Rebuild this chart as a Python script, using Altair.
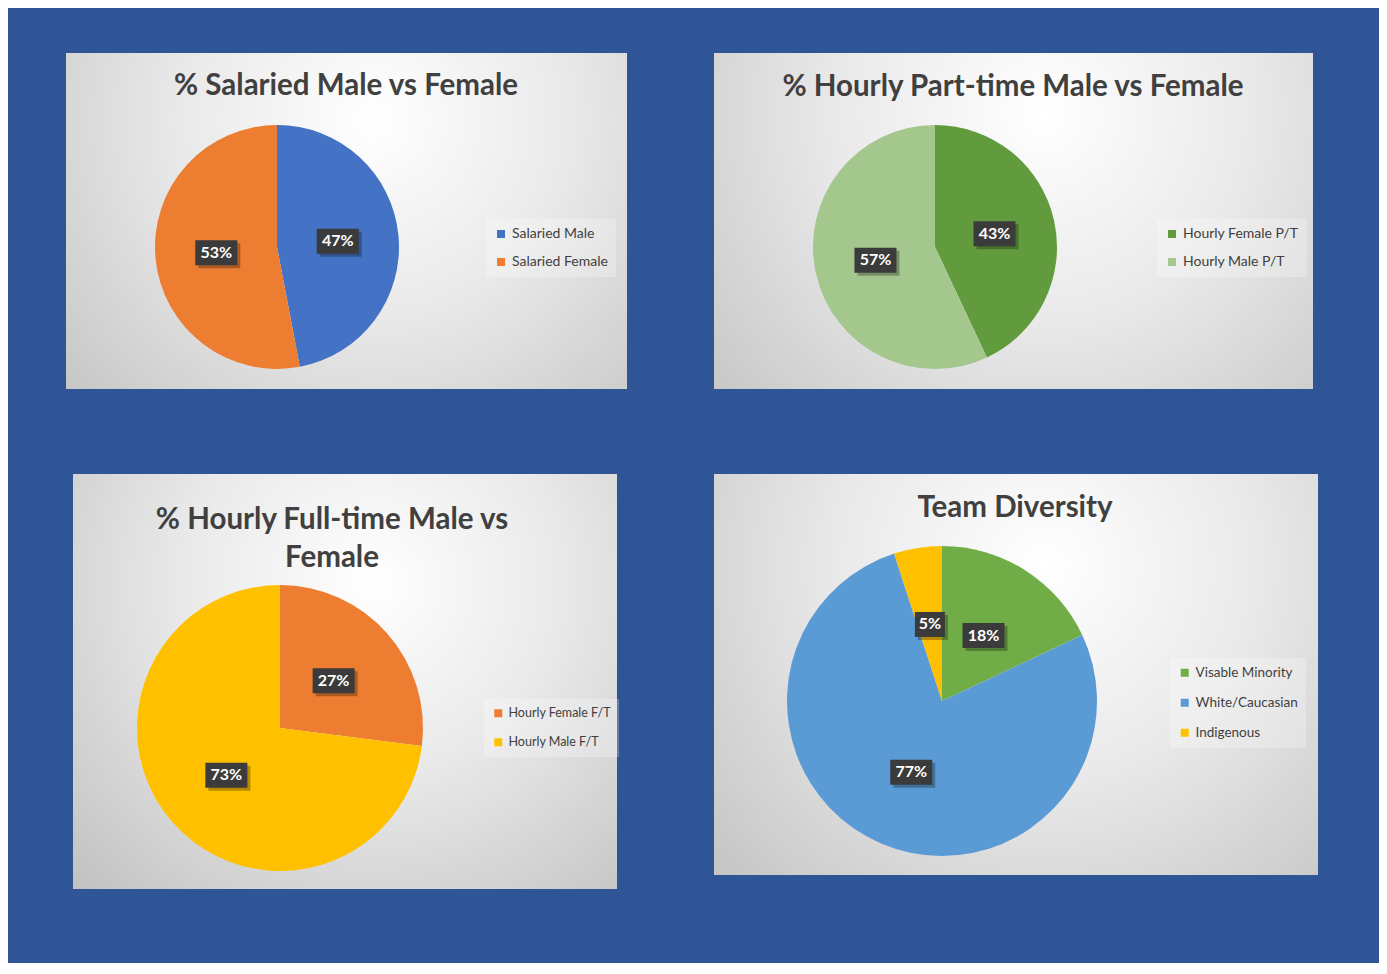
import altair as alt
import pandas as pd

# ---------------- data ----------------
p1_cats = ["Salaried Male", "Salaried Female"]
p1_vals = [47, 53]
p1_labels = ["47%", "53%"]
p1_colors = ["#4472C4", "#ED7D31"]
p1_title = ["% Salaried Male vs Female"]

p2_cats = ["Hourly Female P/T", "Hourly Male P/T"]
p2_vals = [43, 57]
p2_labels = ["43%", "57%"]
p2_colors = ["#629B3D", "#A4C78E"]
p2_title = ["% Hourly Part-time Male vs Female"]

p3_cats = ["Hourly Female F/T", "Hourly Male F/T"]
p3_vals = [27, 73]
p3_labels = ["27%", "73%"]
p3_colors = ["#ED7D31", "#FFC000"]
p3_title = ["% Hourly Full-time Male vs", "Female"]

p4_cats = ["Visable Minority", "White/Caucasian", "Indigenous"]
p4_vals = [18, 77, 5]
p4_labels = ["18%", "77%", "5%"]
p4_colors = ["#70AD47", "#5B9BD5", "#FFC000"]
p4_title = ["Team Diversity"]

BG = "#2F5597"
FONT = "Lato"

GRAD = alt.RadialGradient(
    gradient="radial", x1=0.55, y1=0.32, r1=0.0, x2=0.55, y2=0.32, r2=0.78,
    stops=[alt.GradientStop(offset=0, color="#ffffff"),
           alt.GradientStop(offset=0.45, color="#e9e9e9"),
           alt.GradientStop(offset=1, color="#c2c2c2")],
)


def panel(cats, vals, labels, colors, title_lines, W, H, cx, cy, R,
          tx, ty, tsize, lx, ly, lfont, lrow):
    df = pd.DataFrame({"cat": cats, "val": vals, "lab": labels,
                       "idx": list(range(len(cats)))})
    base = alt.Chart(df)
    one = alt.Chart(pd.DataFrame({"k": [0]}))
    rl = R * 0.5

    bg = one.mark_rect(fill=GRAD, strokeWidth=0).encode(
        x=alt.value(0), x2=alt.value(W), y=alt.value(0), y2=alt.value(H))

    color = alt.Color(
        "cat:N", sort=cats,
        scale=alt.Scale(domain=cats, range=colors),
        legend=alt.Legend(
            orient="none", legendX=lx, legendY=ly, title=None,
            fillColor="rgba(255,255,255,0.25)", padding=8,
            symbolType="square", symbolSize=64, symbolStrokeWidth=0,
            labelFont=FONT, labelFontSize=lfont, labelColor="#404040",
            labelOffset=4, rowPadding=lrow,
        ),
    )

    arc = base.mark_arc(radius=R).encode(
        theta=alt.Theta("val:Q", stack=True),
        color=color,
        order=alt.Order("idx:Q"),
        x=alt.value(cx), y=alt.value(cy),
    )

    lab = base.transform_joinaggregate(total="sum(val)").transform_window(
        cum="sum(val)", sort=[alt.SortField("idx")], frame=[None, 0]
    ).transform_calculate(
        a="2*PI*(datum.cum - datum.val/2)/datum.total",
    ).transform_calculate(
        lx=f"{cx} + {rl}*sin(datum.a)",
        ly=f"{cy} - {rl}*cos(datum.a)",
        shp="length(datum.lab) > 2 ? 'M-21,-12.5H21V12.5H-21Z' : 'M-15,-12.5H15V12.5H-15Z'",
    )
    xe = alt.X("lx:Q", scale=None, axis=None)
    ye = alt.Y("ly:Q", scale=None, axis=None)

    shadow = lab.mark_point(filled=True, fill="#000000", opacity=0.28, size=4,
                            strokeWidth=0, xOffset=3, yOffset=3).encode(
        x=xe, y=ye, shape=alt.Shape("shp:N", scale=None))
    box = lab.mark_point(filled=True, fill="#3b3b3b", opacity=1, size=4,
                         strokeWidth=0).encode(
        x=xe, y=ye, shape=alt.Shape("shp:N", scale=None))
    txt = lab.mark_text(font=FONT, fontWeight="bold", fontSize=16,
                        color="white", baseline="middle", align="center").encode(
        x=xe, y=ye, text="lab:N")

    title = one.mark_text(font=FONT, fontWeight="bold", fontSize=tsize,
                          color="#404040", baseline="middle", align="center",
                          lineHeight=38).encode(
        x=alt.value(tx), y=alt.value(ty),
        text=alt.value(title_lines if len(title_lines) > 1 else title_lines[0]),
    )

    return alt.layer(bg, arc, shadow, box, txt, title).properties(
        width=W, height=H
    )


p1 = panel(p1_cats, p1_vals, p1_labels, p1_colors, p1_title,
           561, 336, 211, 194, 122, 280, 33, 29.5, 420, 166, 14, 14)
p2 = panel(p2_cats, p2_vals, p2_labels, p2_colors, p2_title,
           599, 336, 221, 194, 122, 299, 34, 29.5, 443, 166, 14, 14)
p3 = panel(p3_cats, p3_vals, p3_labels, p3_colors, p3_title,
           544, 415, 207, 254, 143, 259, 46, 29.5, 411, 225, 12.5, 16)
p4 = panel(p4_cats, p4_vals, p4_labels, p4_colors, p4_title,
           604, 401, 228, 227, 155, 301, 34, 29.5, 456, 184, 13.5, 15)

spacer = alt.Chart(pd.DataFrame({"k": [0]})).mark_rect(opacity=0).encode(
    x=alt.value(0), x2=alt.value(1), y=alt.value(0), y2=alt.value(1)
).properties(width=1, height=1)

row1 = alt.hconcat(p1, p2, spacing=87, bounds="flush").resolve_scale(
    color="independent", theta="independent")
row2_inner = alt.hconcat(p3, p4, spacing=97, bounds="flush").resolve_scale(
    color="independent", theta="independent")
row2 = alt.hconcat(spacer, row2_inner, spacing=6).resolve_scale(
    color="independent", theta="independent")

chart = alt.vconcat(row1, row2, spacing=85).resolve_scale(
    color="independent", theta="independent"
).properties(
    background=BG,
    padding={"left": 58, "top": 45, "right": 61, "bottom": 74},
).configure_view(strokeWidth=0)

chart.save("out.html", embed_options={"renderer": "svg", "actions": False})
